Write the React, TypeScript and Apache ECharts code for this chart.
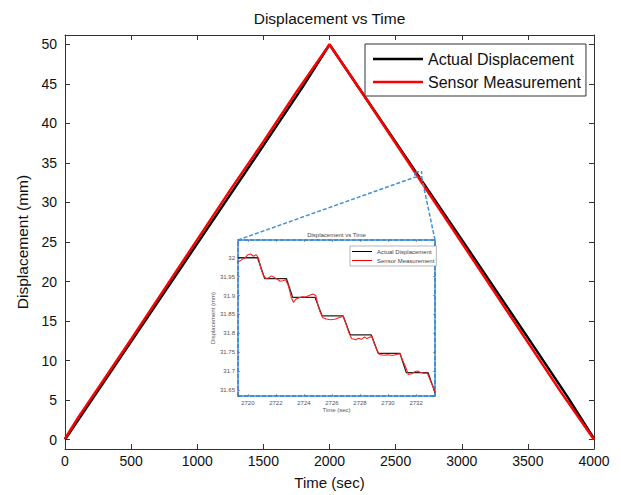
import React, { useEffect, useRef } from "react";
import * as echarts from "echarts";

// ---- main chart data ----
const actualTime = [0, 500, 1000, 1500, 1800, 2000, 2300, 2700, 3000, 3500, 3800, 4000];
const actualDisp = [0, 12.4, 24.8, 37.2, 44.7, 50, 42.6, 32.7, 25.3, 12.9, 5.4, 0.1];
const sensorTime = [0, 100, 250, 500, 750, 1000, 1250, 1500, 1750, 1900, 2000, 2250, 2500, 2750, 3000, 3250, 3500, 3750, 3900, 4000];
const sensorDisp = [0.1, 2.8, 6.5, 12.7, 19.0, 25.3, 31.6, 37.7, 44.0, 47.6, 50, 43.8, 37.5, 31.2, 24.9, 18.6, 12.3, 6.0, 2.4, 0];

// ---- zoom box on main chart ----
const zoomBoxX = [2645, 2697];
const zoomBoxY = [33.2, 33.9];

// ---- inset data ----
const insetActualTime = [2719.3, 2720.7, 2721.2, 2722.75, 2723.2, 2724.8, 2725.3, 2726.8, 2727.3, 2728.8, 2729.3, 2730.85, 2731.3, 2732.85, 2733.35];
const insetActualDisp = [32.0, 32.0, 31.945, 31.945, 31.895, 31.895, 31.846, 31.846, 31.796, 31.796, 31.747, 31.747, 31.696, 31.696, 31.643];
const insetSensorTime = [
  2719.25, 2719.5, 2719.8, 2720.0, 2720.2, 2720.4, 2720.6, 2720.75, 2720.95, 2721.1, 2721.3, 2721.5, 2721.7, 2721.9,
  2722.1, 2722.3, 2722.5, 2722.7, 2722.9, 2723.1, 2723.25, 2723.45, 2723.7, 2723.9, 2724.1, 2724.3, 2724.5, 2724.65,
  2724.85, 2725.0, 2725.15, 2725.35, 2725.6, 2725.9, 2726.2, 2726.5, 2726.8, 2727.0, 2727.2, 2727.4, 2727.7, 2727.9,
  2728.1, 2728.3, 2728.5, 2728.85, 2729.0, 2729.2, 2729.4, 2729.7, 2730.0, 2730.3, 2730.6, 2730.85, 2731.05, 2731.25,
  2731.45, 2731.7, 2731.9, 2732.1, 2732.3, 2732.55, 2732.8, 2733.05, 2733.2, 2733.35,
];
const insetSensorDisp = [
  31.988, 31.993, 32.0, 32.008, 32.01, 32.004, 32.008, 32.0, 31.97, 31.954, 31.945, 31.947, 31.952, 31.948,
  31.943, 31.938, 31.939, 31.942, 31.925, 31.895, 31.882, 31.891, 31.895, 31.897, 31.896, 31.899, 31.902, 31.904,
  31.9, 31.875, 31.857, 31.841, 31.838, 31.836, 31.837, 31.841, 31.845, 31.825, 31.803, 31.786, 31.783, 31.787,
  31.784, 31.79, 31.786, 31.792, 31.775, 31.756, 31.744, 31.742, 31.743, 31.741, 31.744, 31.746, 31.728, 31.711,
  31.691, 31.693, 31.698, 31.7, 31.697, 31.694, 31.695, 31.672, 31.66, 31.645,
];

const mainXRange = [0, 4000];
const mainYRange = [-1.2, 51.2];
const insetXRange = [2719.3, 2733.35];
const insetYRange = [31.634, 32.047];

const zip = (a: number[], b: number[]) => a.map((v, i) => [v, b[i]]);

const FONT = "Liberation Sans, Arial, Helvetica, sans-serif";
const BLUE = "#3f92d8";
const AXIS = "#333";

export default function App() {
  const ref = useRef<HTMLDivElement>(null);
  useEffect(() => {
    if (!ref.current) return;
    const chart = echarts.init(ref.current, undefined, { renderer: "svg" });
    const mainTick = () => ({ show: true, inside: true, length: 5, lineStyle: { color: AXIS } });
    const mainLine = () => ({ show: true, onZero: false, lineStyle: { color: AXIS } });
    const insetTick = () => ({ show: true, inside: true, length: 2, lineStyle: { color: "#666", width: 0.6 } });
    const insetAxisLine = () => ({ show: true, onZero: false, lineStyle: { color: BLUE, width: 2, type: [4, 2] as any } });
    const insetLabel = { color: "#555", fontSize: 6, fontFamily: FONT };

    const option: any = {
      animation: false,
      backgroundColor: "#fff",
      textStyle: { fontFamily: FONT },
      legend: [
        {
          data: ["Actual Displacement", "Sensor Measurement"],
          orient: "vertical",
          left: 365,
          top: 44,
          padding: [6, 5, 5, 8],
          itemGap: 5,
          itemWidth: 50,
          itemHeight: 2.5,
          icon: "rect",
          borderColor: "#333",
          borderWidth: 1,
          backgroundColor: "#fff",
          textStyle: { fontSize: 16, color: "#111", fontFamily: FONT, lineHeight: 18 },
          selectedMode: false,
        },
        {
          data: ["Actual Displacement", "Sensor Measurement"],
          orient: "vertical",
          left: 350,
          top: 246,
          padding: [2, 2, 2, 2],
          itemGap: 2,
          itemWidth: 20,
          itemHeight: 1,
          icon: "rect",
          borderColor: "#888",
          borderWidth: 0.6,
          backgroundColor: "#fff",
          textStyle: { fontSize: 6, color: "#444", fontFamily: FONT, lineHeight: 7 },
          selectedMode: false,
          z: 10,
        },
      ],
      grid: [
        { left: 65, right: 27, top: 35, bottom: 43, containLabel: false },
        { left: 238, top: 240, width: 197, height: 156, show: true, backgroundColor: "#fff", borderWidth: 0, z: 5 },
      ],
      xAxis: [
        {
          type: "value", gridIndex: 0, position: "bottom",
          min: mainXRange[0], max: mainXRange[1], interval: 500,
          name: "Time (sec)", nameLocation: "middle", nameGap: 26,
          nameTextStyle: { fontSize: 15, color: "#111", fontFamily: FONT },
          axisLine: mainLine(),
          axisTick: mainTick(),
          axisLabel: { fontSize: 14, color: "#111", margin: 5, fontFamily: FONT, formatter: (v: number) => String(v) },
          splitLine: { show: false },
        },
        {
          type: "value", gridIndex: 0, position: "top",
          min: mainXRange[0], max: mainXRange[1], interval: 500,
          name: "Displacement vs Time", nameLocation: "middle", nameGap: 9,
          nameTextStyle: { fontSize: 15.5, color: "#111", fontFamily: FONT },
          axisLine: mainLine(),
          axisTick: mainTick(),
          axisLabel: { show: false },
          splitLine: { show: false },
        },
        {
          type: "value", gridIndex: 1, position: "bottom",
          min: insetXRange[0], max: insetXRange[1], splitNumber: 7,
          name: "Time (sec)", nameLocation: "middle", nameGap: 10,
          nameTextStyle: insetLabel,
          axisLine: insetAxisLine(),
          axisTick: insetTick(),
          axisLabel: {
            ...insetLabel, margin: 4,
            formatter: (v: number) => {
              const r = Math.round(v);
              return Math.abs(v - r) < 1e-6 && r % 2 === 0 ? String(r) : "";
            },
          },
          splitLine: { show: false },
          z: 6,
        },
        {
          type: "value", gridIndex: 1, position: "top",
          min: insetXRange[0], max: insetXRange[1], splitNumber: 7,
          name: "Displacement vs Time", nameLocation: "middle", nameGap: 2,
          nameTextStyle: { ...insetLabel, color: "#444" },
          axisLine: insetAxisLine(),
          axisTick: insetTick(),
          axisLabel: { show: false },
          splitLine: { show: false },
          z: 6,
        },
      ],
      yAxis: [
        {
          type: "value", gridIndex: 0, position: "left",
          min: mainYRange[0], max: mainYRange[1], splitNumber: 10,
          name: "Displacement (mm)", nameLocation: "middle", nameGap: 29,
          nameTextStyle: { fontSize: 15.5, color: "#111", fontFamily: FONT },
          axisLine: mainLine(),
          axisTick: mainTick(),
          axisLabel: {
            fontSize: 14, color: "#111", margin: 8, fontFamily: FONT,
            formatter: (v: number) => (Math.abs(v - Math.round(v)) < 1e-6 && Math.round(v) % 5 === 0 ? String(Math.round(v)) : ""),
          },
          splitLine: { show: false },
        },
        {
          type: "value", gridIndex: 0, position: "right",
          min: mainYRange[0], max: mainYRange[1], splitNumber: 10,
          axisLine: mainLine(),
          axisTick: mainTick(),
          axisLabel: { show: false },
          splitLine: { show: false },
        },
        {
          type: "value", gridIndex: 1, position: "left",
          min: insetYRange[0], max: insetYRange[1], splitNumber: 8,
          name: "Displacement (mm)", nameLocation: "middle", nameGap: 22,
          nameTextStyle: insetLabel,
          axisLine: insetAxisLine(),
          axisTick: insetTick(),
          axisLabel: {
            ...insetLabel, margin: 3,
            formatter: (v: number) => {
              const r = Math.round(v * 20) / 20;
              return Math.abs(v - r) < 1e-6 ? String(parseFloat(r.toFixed(2))) : "";
            },
          },
          splitLine: { show: false },
          z: 6,
        },
        {
          type: "value", gridIndex: 1, position: "right",
          min: insetYRange[0], max: insetYRange[1], splitNumber: 8,
          axisLine: insetAxisLine(),
          axisTick: insetTick(),
          axisLabel: { show: false },
          splitLine: { show: false },
          z: 6,
        },
      ],
      series: [
        {
          name: "Actual Displacement", type: "line", xAxisIndex: 0, yAxisIndex: 0,
          data: zip(actualTime, actualDisp), showSymbol: false, symbol: "none",
          lineStyle: { color: "#000", width: 2.5 }, itemStyle: { color: "#000" }, z: 2,
        },
        {
          name: "Sensor Measurement", type: "line", xAxisIndex: 0, yAxisIndex: 0,
          data: zip(sensorTime, sensorDisp), showSymbol: false, symbol: "none",
          lineStyle: { color: "#ff0000", width: 2.5 }, itemStyle: { color: "#ff0000" }, z: 3,
        },
        {
          name: "zoomBox", type: "line", xAxisIndex: 0, yAxisIndex: 0,
          data: [
            [zoomBoxX[0], zoomBoxY[0]], [zoomBoxX[1], zoomBoxY[0]], [zoomBoxX[1], zoomBoxY[1]],
            [zoomBoxX[0], zoomBoxY[1]], [zoomBoxX[0], zoomBoxY[0]],
          ],
          showSymbol: false, symbol: "none", silent: true,
          lineStyle: { color: BLUE, width: 1.5, type: [3, 2] }, z: 4,
        },
        {
          name: "Actual Displacement", type: "line", xAxisIndex: 2, yAxisIndex: 2,
          data: zip(insetActualTime, insetActualDisp), showSymbol: false, symbol: "none",
          lineStyle: { color: "#222", width: 1.3 }, itemStyle: { color: "#222" }, z: 7,
        },
        {
          name: "Sensor Measurement", type: "line", xAxisIndex: 2, yAxisIndex: 2,
          data: zip(insetSensorTime, insetSensorDisp), showSymbol: false, symbol: "none",
          lineStyle: { color: "#ff2020", width: 1.1 }, itemStyle: { color: "#ff2020" }, z: 8,
        },
      ],
    };
    chart.setOption(option);

    const tl = chart.convertToPixel({ xAxisIndex: 2, yAxisIndex: 2 } as any, [insetXRange[0], insetYRange[1]]) as number[];
    const tr = chart.convertToPixel({ xAxisIndex: 2, yAxisIndex: 2 } as any, [insetXRange[1], insetYRange[1]]) as number[];
    const bl = chart.convertToPixel({ xAxisIndex: 0, yAxisIndex: 0 } as any, [zoomBoxX[0], zoomBoxY[0]]) as number[];
    const br = chart.convertToPixel({ xAxisIndex: 0, yAxisIndex: 0 } as any, [zoomBoxX[1], zoomBoxY[0]]) as number[];
    const connStyle = { stroke: BLUE, lineWidth: 1.5, lineDash: [4, 2] };
    chart.setOption({
      graphic: [
        { type: "line", z: 20, shape: { x1: tl[0], y1: tl[1], x2: bl[0], y2: bl[1] }, style: connStyle, silent: true },
        { type: "line", z: 20, shape: { x1: tr[0], y1: tr[1], x2: br[0], y2: br[1] }, style: connStyle, silent: true },
      ],
    });

    return () => chart.dispose();
  }, []);
  return <div ref={ref} style={{ position: "fixed", left: 0, top: 0, width: 621, height: 495 }} />;
}
